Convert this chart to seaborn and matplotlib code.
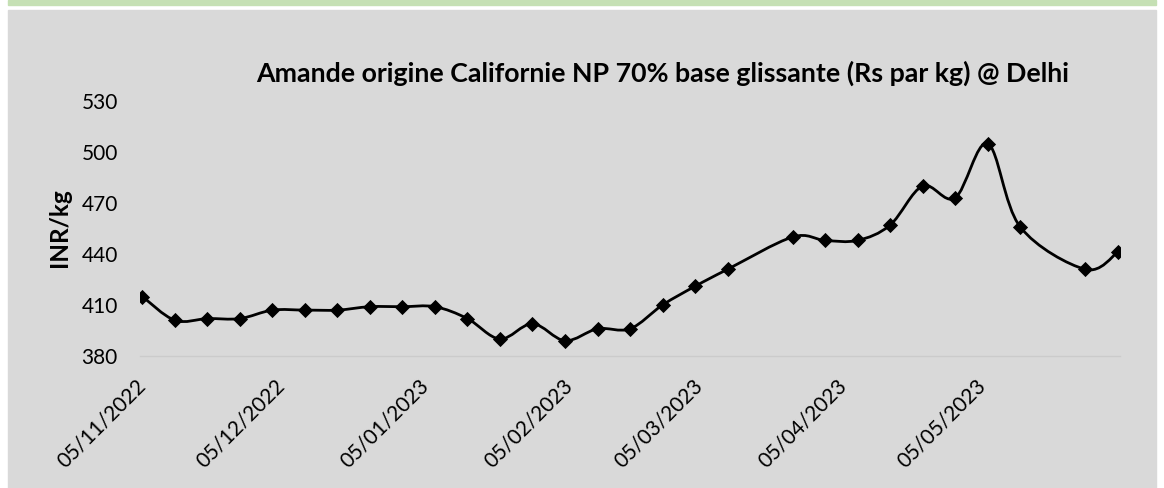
import numpy as np
import pandas as pd
import matplotlib
matplotlib.use("Agg")
import matplotlib.pyplot as plt
import matplotlib.dates as mdates
from matplotlib.path import Path
from matplotlib.patches import PathPatch, Rectangle
import seaborn as sns

# données (prix hebdomadaires, Rs/kg)
dates = ["05/11/2022", "12/11/2022", "19/11/2022", "26/11/2022", "03/12/2022",
         "10/12/2022", "17/12/2022", "24/12/2022", "31/12/2022", "07/01/2023",
         "14/01/2023", "21/01/2023", "28/01/2023", "04/02/2023", "11/02/2023",
         "18/02/2023", "25/02/2023", "04/03/2023", "11/03/2023", "25/03/2023",
         "01/04/2023", "08/04/2023", "15/04/2023", "22/04/2023", "29/04/2023",
         "06/05/2023", "13/05/2023", "27/05/2023", "03/06/2023"]
prices = [415, 401, 402, 402, 407, 407, 407, 409, 409, 409,
          402, 390, 399, 389, 396, 396, 410, 421, 431, 450,
          448, 448, 457, 480, 473, 505, 456, 431, 441]
y_ticks = [380, 410, 440, 470, 500, 530]

title = "Amande origine Californie NP 70% base glissante (Rs par kg) @ Delhi"
y_label = "INR/kg"

df = pd.DataFrame({"date": pd.to_datetime(dates, format="%d/%m/%Y"), "prix": prices})

sns.set_style("white")
plt.rcParams["font.family"] = ["Lato", "DejaVu Sans"]
plt.rcParams["text.color"] = "black"

fig = plt.figure(figsize=(11.64, 4.88), dpi=100)
fig.patch.set_facecolor("white")

# fond gris + bandeau vert
fig.patches.append(Rectangle((8 / 1164, 0), 1148 / 1164, 478 / 488,
                             transform=fig.transFigure, color="#d9d9d9", zorder=-5))
fig.patches.append(Rectangle((8 / 1164, 1 - 4.5 / 488), 1148 / 1164, 4.5 / 488,
                             transform=fig.transFigure, color="#c5e0b4", zorder=-5))

ax = fig.add_axes([0.1203, 0.2705, 0.8419, 0.5225])
ax.set_facecolor("none")
ax.set_zorder(1)

# courbe lissée (type Excel) passant par les points
xn = mdates.date2num(df["date"])
pts = np.column_stack([xn, df["prix"].to_numpy(float)])
verts = [pts[0]]
codes = [Path.MOVETO]
for i in range(len(pts) - 1):
    p0 = pts[i - 1] if i > 0 else pts[i]
    p1, p2 = pts[i], pts[i + 1]
    p3 = pts[i + 2] if i + 2 < len(pts) else pts[i + 1]
    verts += [p1 + (p2 - p0) / 6, p2 - (p3 - p1) / 6, p2]
    codes += [Path.CURVE4] * 3
ax.add_patch(PathPatch(Path(verts, codes), facecolor="none", edgecolor="black",
                       lw=2, zorder=2))

sns.scatterplot(data=df, x="date", y="prix", marker="D", s=60, color="black",
                edgecolor="black", linewidth=0, zorder=3, ax=ax)

ax.set_xlim(xn[0] - 0.5, xn[-1] + 0.5)
ax.set_ylim(380, 530)
ax.set_yticks(y_ticks)
ax.xaxis.set_major_locator(mdates.MonthLocator(bymonthday=5))
ax.xaxis.set_major_formatter(mdates.DateFormatter("%d/%m/%Y"))

for s in ["top", "right", "left"]:
    ax.spines[s].set_visible(False)
ax.spines["bottom"].set_color("#cbcbcb")
ax.spines["bottom"].set_linewidth(1)

ax.tick_params(axis="y", length=0, pad=16, labelsize=15, colors="black")
ax.tick_params(axis="x", length=4, color="#cbcbcb", pad=15, labelsize=15,
               labelcolor="black")
for lab in ax.get_xticklabels():
    lab.set_rotation(45)
    lab.set_ha("right")
    lab.set_va("center")
    lab.set_rotation_mode("anchor")

ax.set_xlabel("")
ax.set_ylabel("")
fig.text(0.0515, 0.533, y_label, rotation=90, ha="center", va="center",
         fontsize=17.5, fontweight="bold", color="black")
fig.text(0.569, 0.850, title, ha="center", va="center", fontsize=19.3,
         fontweight="bold", color="black")

fig.savefig("out.png", dpi=100)
